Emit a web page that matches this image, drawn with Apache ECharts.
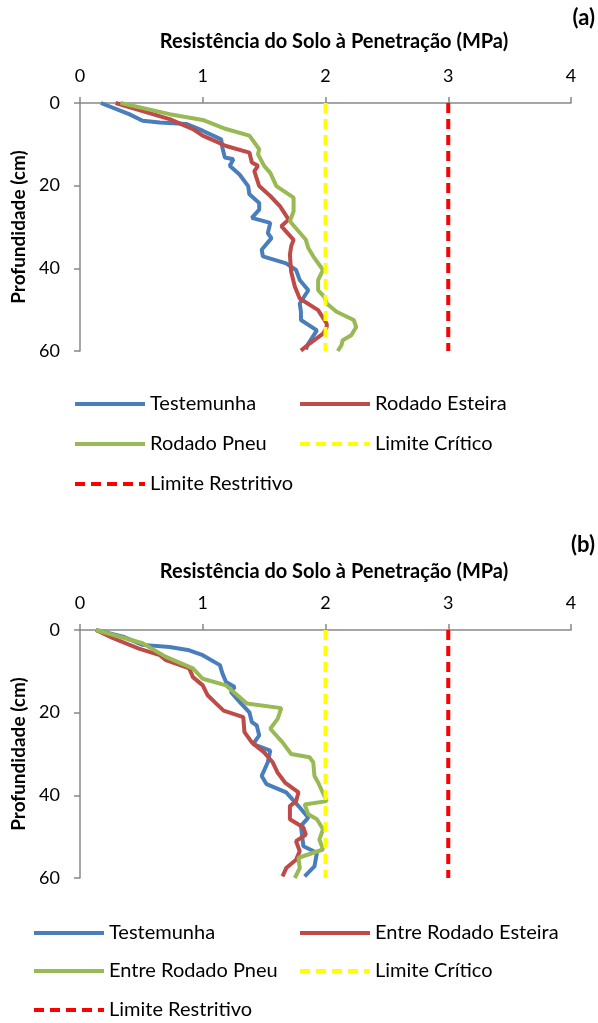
<!DOCTYPE html>
<html>
<head>
<meta charset="utf-8">
<script src="https://cdn.jsdelivr.net/npm/echarts@6/dist/echarts.min.js"></script>
<style>
  body { margin: 0; background: #fff; }
  #chartA { position: absolute; left: 0; top: 0; width: 598px; height: 520px; }
  #chartB { position: absolute; left: 0; top: 520px; width: 598px; height: 503px; }
</style>
</head>
<body>
<div id="chartA"></div>
<div id="chartB"></div>
<script>
// eixo X (MPa) e eixo Y (profundidade, cm)
var xTicks = [0, 1, 2, 3, 4];
var yTicks = [0, 20, 40, 60];
var limiteCritico = 2;
var limiteRestritivo = 3;

// (a) pares [resistência MPa, profundidade cm]
var a_testemunha = [
  [0.17, 0], [0.40, 2.7], [0.51, 4.3], [0.65, 4.7], [0.87, 5.1], [1.00, 6.7], [1.15, 8.8],
  [1.16, 10.8], [1.18, 13.2], [1.25, 13.6], [1.22, 15.2], [1.30, 17.3], [1.37, 20.1],
  [1.38, 22.1], [1.46, 24.2], [1.46, 25.8], [1.40, 27.8], [1.55, 29.0], [1.53, 31.5],
  [1.56, 32.7], [1.48, 35.5], [1.49, 37.1], [1.68, 38.8], [1.76, 40.4], [1.79, 42.8],
  [1.86, 45.3], [1.79, 48.5], [1.80, 50.5], [1.80, 52.5], [1.93, 55.0], [1.86, 58.2], [1.84, 59.6]
];
var a_esteira = [
  [0.29, 0], [0.73, 3.9], [0.92, 6.3], [1.00, 7.9], [1.19, 10.4], [1.38, 12.0], [1.40, 14.4],
  [1.45, 15.2], [1.42, 16.5], [1.46, 20.1], [1.55, 22.5], [1.63, 25.0], [1.70, 28.2],
  [1.64, 29.8], [1.74, 33.1], [1.72, 34.7], [1.71, 36.7], [1.72, 40.8], [1.75, 44.4],
  [1.79, 47.3], [1.94, 50.1], [2.01, 53.4], [2.01, 54.2], [1.98, 55.8], [1.87, 58.2], [1.80, 59.9]
];
var a_pneu = [
  [0.33, 0], [0.73, 2.7], [1.00, 4.1], [1.19, 6.3], [1.38, 7.9], [1.46, 11.2], [1.45, 12.4],
  [1.50, 15.2], [1.55, 16.9], [1.60, 20.1], [1.74, 22.9], [1.74, 26.2], [1.71, 28.6],
  [1.84, 33.1], [1.86, 35.1], [1.90, 37.1], [1.98, 40.4], [1.94, 42.8], [1.94, 45.3],
  [1.99, 46.9], [2.01, 48.5], [2.09, 50.5], [2.23, 52.5], [2.25, 54.2], [2.21, 56.2],
  [2.14, 57.4], [2.13, 58.6], [2.10, 60]
];

// (b)
var b_testemunha = [
  [0.13, 0], [0.35, 1.6], [0.51, 3.6], [0.73, 4.1], [0.89, 4.9], [1.00, 6.1], [1.14, 8.5],
  [1.16, 10.5], [1.19, 12.6], [1.26, 13.8], [1.23, 15.0], [1.30, 17.4], [1.38, 19.9],
  [1.40, 22.3], [1.44, 23.1], [1.46, 25.5], [1.41, 27.6], [1.55, 29.2], [1.53, 32.0],
  [1.48, 35.3], [1.52, 37.3], [1.68, 39.3], [1.78, 42.6], [1.86, 45.4], [1.80, 47.4],
  [1.82, 52.3], [1.93, 53.9], [1.91, 57.2], [1.83, 59.6]
];
var b_esteira = [
  [0.13, 0], [0.27, 2.0], [0.48, 4.5], [0.65, 6.1], [0.70, 7.3], [0.89, 9.3], [0.92, 11.4],
  [1.00, 13.4], [1.04, 15.8], [1.11, 17.8], [1.17, 19.5], [1.33, 21.1], [1.34, 24.7],
  [1.40, 27.2], [1.50, 29.6], [1.57, 32.0], [1.61, 34.5], [1.67, 36.9], [1.78, 39.3],
  [1.76, 41.4], [1.71, 42.6], [1.71, 45.8], [1.82, 47.8], [1.84, 49.5], [1.76, 51.1],
  [1.79, 53.5], [1.76, 55.6], [1.68, 57.6], [1.65, 59.6]
];
var b_pneu = [
  [0.13, 0], [0.51, 3.2], [0.70, 6.5], [0.92, 9.3], [1.00, 11.8], [1.19, 13.4], [1.36, 17.8],
  [1.64, 18.9], [1.61, 21.5], [1.55, 23.9], [1.65, 27.2], [1.72, 30.0], [1.87, 30.8],
  [1.90, 32.0], [1.91, 35.3], [1.94, 36.9], [2.01, 41.4], [1.83, 42.2], [1.86, 44.6],
  [1.93, 45.8], [1.98, 48.2], [1.95, 50.7], [1.98, 53.1], [1.78, 55.1], [1.79, 57.6], [1.75, 60]
];

var FONT = 'Lato';
var AXIS_COLOR = '#888888';
var LINE_W = 4;

function buildOption(cfg) {
  var names = cfg.names;
  var lines = [
    {name: names[0], data: cfg.data[0], color: '#4A7EBB', type: 'solid'},
    {name: names[1], data: cfg.data[1], color: '#BE4B48', type: 'solid'},
    {name: names[2], data: cfg.data[2], color: '#98B954', type: 'solid'},
    {name: names[3], data: [[limiteCritico, yTicks[0]], [limiteCritico, yTicks[yTicks.length - 1]]], color: '#FFFF00', type: [10, 6]},
    {name: names[4], data: [[limiteRestritivo, yTicks[0]], [limiteRestritivo, yTicks[yTicks.length - 1]]], color: '#FF0000', type: [10, 6]}
  ];
  // legenda: uma entrada por posição
  var legends = lines.map(function (l, i) {
    return {
      data: [l.name],
      left: cfg.legendCols[i % 2],
      top: cfg.legendRows[Math.floor(i / 2)] - 10,
      padding: 0,
      itemWidth: 70,
      itemHeight: 20,
      itemGap: 0,
      selectedMode: false,
      itemStyle: {opacity: 0},
      lineStyle: {width: LINE_W, color: l.color, type: l.type},
      textStyle: {fontFamily: FONT, fontSize: 20, color: '#000', lineHeight: 20}
    };
  });
  return {
    animation: false,
    textStyle: {fontFamily: FONT},
    title: [
      {text: cfg.label, right: 3, top: cfg.labelTop, padding: 0,
       textStyle: {fontFamily: FONT, fontSize: 22, fontWeight: 'bold', color: '#000'}},
      {text: 'Resistência do Solo à Penetração (MPa)', left: 334, textAlign: 'center', top: cfg.titleTop, padding: 0,
       textStyle: {fontFamily: FONT, fontSize: 20, fontWeight: 'bold', color: '#000'}}
    ],
    legend: legends,
    grid: {left: 80, top: cfg.gridTop, width: 491, height: 248, containLabel: false},
    xAxis: {
      type: 'value', position: 'top', min: 0, max: 4, interval: 1,
      axisLine: {lineStyle: {color: AXIS_COLOR, width: 1.5}},
      axisTick: {show: true, inside: false, length: 6, lineStyle: {color: AXIS_COLOR, width: 1.5}},
      splitLine: {show: false},
      axisLabel: {fontFamily: FONT, fontSize: 18, color: '#000', margin: 18}
    },
    yAxis: {
      type: 'value', inverse: true, min: 0, max: 60, interval: 20,
      name: 'Profundidade (cm)', nameLocation: 'middle', nameGap: 51, nameRotate: 90,
      nameTextStyle: {fontFamily: FONT, fontSize: 19, fontWeight: 'bold', color: '#000'},
      axisLine: {show: true, lineStyle: {color: AXIS_COLOR, width: 1.5}},
      axisTick: {show: true, inside: false, length: 6, lineStyle: {color: AXIS_COLOR, width: 1.5}},
      splitLine: {show: false},
      axisLabel: {fontFamily: FONT, fontSize: 18, color: '#000', margin: 20}
    },
    series: lines.map(function (l) {
      return {
        type: 'line', name: l.name, data: l.data, symbol: 'none', smooth: false,
        itemStyle: {color: l.color},
        lineStyle: {color: l.color, width: LINE_W, type: l.type}
      };
    })
  };
}

var chartA = echarts.init(document.getElementById('chartA'));
chartA.setOption(buildOption({
  label: '(a)', labelTop: 7, titleTop: 32, gridTop: 103,
  names: ['Testemunha', 'Rodado Esteira', 'Rodado Pneu', 'Limite Crítico', 'Limite Restritivo'],
  data: [a_testemunha, a_esteira, a_pneu],
  legendCols: [73, 298], legendRows: [404, 444, 484]
}));

var chartB = echarts.init(document.getElementById('chartB'));
chartB.setOption(buildOption({
  label: '(b)', labelTop: 14, titleTop: 42, gridTop: 110,
  names: ['Testemunha', 'Entre Rodado Esteira', 'Entre Rodado Pneu', 'Limite Crítico', 'Limite Restritivo'],
  data: [b_testemunha, b_esteira, b_pneu],
  legendCols: [32, 298], legendRows: [413, 451, 490]
}));
</script>
</body>
</html>
